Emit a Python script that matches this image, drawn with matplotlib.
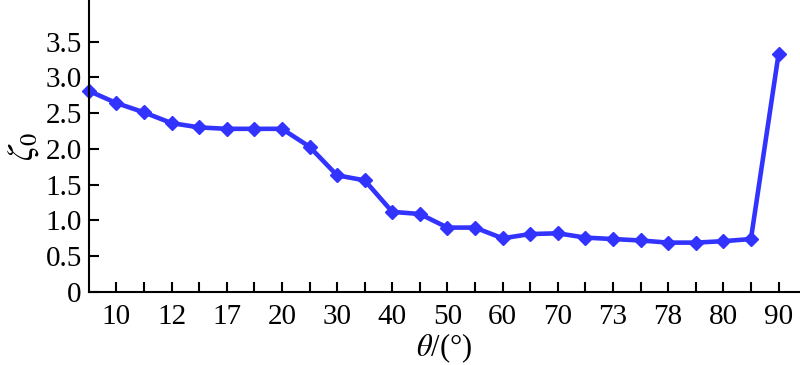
import matplotlib
matplotlib.use("Agg")
import matplotlib.pyplot as plt
import numpy as np

plt.rcParams['font.family'] = ['Liberation Serif', 'DejaVu Serif']
plt.rcParams['mathtext.fontset'] = 'stix'

# ζ0 values at every half step between the labelled angles
zeta0 = [2.81, 2.64, 2.51, 2.36, 2.30, 2.28, 2.28, 2.28, 2.03, 1.63,
         1.56, 1.12, 1.09, 0.90, 0.90, 0.75, 0.81, 0.82, 0.76, 0.74,
         0.72, 0.69, 0.69, 0.71, 0.74, 3.32]
theta_labels = ['10', '12', '17', '20', '30', '40', '50', '60', '70',
                '73', '78', '80', '90']
y_ticks = [0, 0.5, 1.0, 1.5, 2.0, 2.5, 3.0, 3.5]
y_tick_labels = ['0', '0.5', '1.0', '1.5', '2.0', '2.5', '3.0', '3.5']

x = np.arange(len(zeta0))

fig = plt.figure(figsize=(8, 3.65), dpi=100)
ax = fig.add_axes([0.111, 0.2, 0.888, 0.8])

ax.plot(x, zeta0, color='#3333ff', lw=3.3, marker='D', markersize=7.5,
        markeredgecolor='#3333ff', markerfacecolor='#3333ff', clip_on=False)

ax.set_xlim(0, 25.75)
ax.set_ylim(0, 4.08)

# ticks at every point, labels under every other one
ax.set_xticks(x[1:])
ax.set_xticklabels([theta_labels[(i - 1) // 2] if i % 2 == 1 else '' for i in x[1:]])
ax.set_yticks(y_ticks)
ax.set_yticklabels(y_tick_labels)

ax.tick_params(direction='in', length=7, width=1.5, labelsize=21, pad=5)
ax.tick_params(axis='x', pad=9)

for s in ['top', 'right']:
    ax.spines[s].set_visible(False)
for s in ['left', 'bottom']:
    ax.spines[s].set_linewidth(1.5)

ax.set_xlabel(r'$\theta$/(°)', fontsize=22, labelpad=1)
ax.set_ylabel(r'$\zeta_0$', fontsize=25, labelpad=3)

fig.savefig('out.png', dpi=100)
